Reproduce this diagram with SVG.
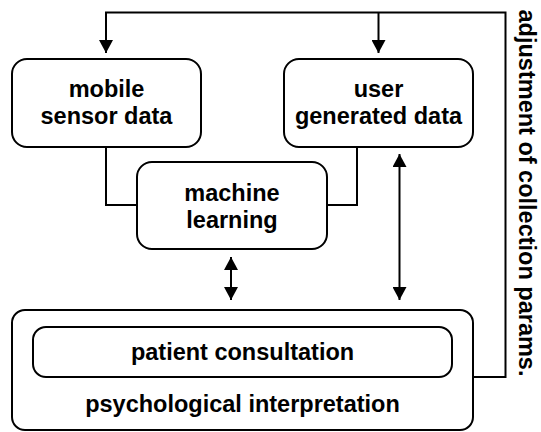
<svg xmlns="http://www.w3.org/2000/svg" width="541" height="432" viewBox="0 0 541 432">
<defs>
<style>
.box{fill:#fff;stroke:#000;stroke-width:2}
.ln{fill:none;stroke:#000;stroke-width:2}
.t{font-family:"Liberation Sans",Arial,sans-serif;font-weight:bold;font-size:23.5px;fill:#000;text-anchor:middle}
</style>
<marker id="ah" viewBox="0 0 13 14" refX="13" refY="7" markerWidth="13" markerHeight="14" markerUnits="userSpaceOnUse" orient="auto-start-reverse">
<path d="M0,0 L13,7 L0,14 Z" fill="#000"/>
</marker>
</defs>
<rect width="541" height="432" fill="#fff"/>
<g id="connectors">
<path class="ln" d="M473,377 H505.5 V12.5 H106 V53" marker-end="url(#ah)"/>
<path class="ln" d="M378.5,12.5 V53" marker-end="url(#ah)"/>
<path class="ln" d="M106,147 V205 H137"/>
<path class="ln" d="M357,147 V205 H327"/>
<path class="ln" d="M231,257 V300" marker-start="url(#ah)" marker-end="url(#ah)"/>
<path class="ln" d="M399.5,154 V300" marker-start="url(#ah)" marker-end="url(#ah)"/>
</g>
<g id="mobile">
<rect class="box" x="12" y="59" width="189" height="88" rx="15"/>
<text class="t" x="106.5" y="97">mobile</text>
<text class="t" x="106.5" y="124">sensor data</text>
</g>
<g id="user">
<rect class="box" x="284" y="59" width="189" height="88" rx="15"/>
<text class="t" x="378.5" y="97">user</text>
<text class="t" x="378.5" y="124">generated data</text>
</g>
<g id="ml">
<rect class="box" x="137" y="162" width="190" height="87" rx="15"/>
<text class="t" x="232" y="201">machine</text>
<text class="t" x="232" y="228">learning</text>
</g>
<g id="psych">
<rect class="box" x="12" y="310" width="461" height="120" rx="13"/>
<text class="t" x="242.5" y="411.5">psychological interpretation</text>
</g>
<g id="patient">
<rect class="box" x="33" y="327" width="419" height="50" rx="13"/>
<text class="t" x="242.5" y="360">patient consultation</text>
</g>
<g id="label">
<text class="t" transform="translate(519.2,193) rotate(90)">adjustment of collection params.</text>
</g>
</svg>
